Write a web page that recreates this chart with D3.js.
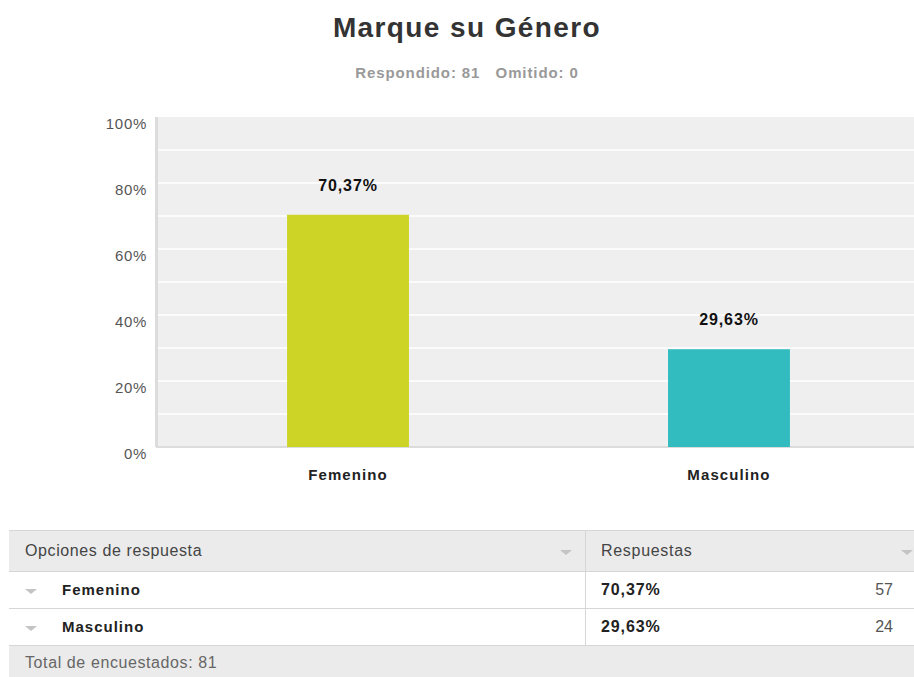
<!DOCTYPE html>
<html>
<head>
<meta charset="utf-8">
<script src="https://cdn.jsdelivr.net/npm/d3@7"></script>
<style>
  body { margin: 0; background: #fff; }
  svg text { font-family: "Liberation Sans", Arial, sans-serif; }
</style>
</head>
<body>
<svg width="914" height="677"></svg>
<script>
// chart values
var categories = ["Femenino", "Masculino"];
var percents = [70.37, 29.63];
var counts = [57, 24];
var barColors = ["#cdd426", "#33bcbf"];
var yTicks = [0, 20, 40, 60, 80, 100];
var title = "Marque su Género";
var answered = 81, skipped = 0;

var svg = d3.select("svg"),
    width = +svg.attr("width"),
    height = +svg.attr("height");

var fmt = function(v) { return v.toFixed(2).replace(".", ",") + "%"; };

// title + subtitle
svg.append("text")
    .attr("x", 467).attr("y", 37)
    .attr("text-anchor", "middle")
    .attr("font-size", 28).attr("font-weight", "bold")
    .attr("letter-spacing", 1.4)
    .attr("fill", "#333")
    .text(title);

svg.append("text")
    .attr("x", 467).attr("y", 78)
    .attr("text-anchor", "middle")
    .attr("font-size", 15).attr("font-weight", "bold")
    .attr("letter-spacing", 0.9)
    .attr("fill", "#999")
    .attr("xml:space", "preserve")
    .text("Respondido: " + answered + "   Omitido: " + skipped);

// plot area
var plot = { left: 156, right: 914, top: 117, bottom: 447 };

var x = d3.scaleBand()
    .domain(categories)
    .range([plot.left, 921])
    .paddingInner(0.68).paddingOuter(0.344);

var y = d3.scaleLinear()
    .domain([0, 100])
    .range([plot.bottom, plot.top]);

svg.append("rect")
    .attr("x", plot.left).attr("y", plot.top)
    .attr("width", plot.right - plot.left)
    .attr("height", plot.bottom - plot.top)
    .attr("fill", "#efefef");

// white gridlines every 10%
svg.append("g")
  .selectAll("line")
  .data(d3.range(10, 100, 10))
  .enter().append("line")
    .attr("x1", plot.left).attr("x2", plot.right)
    .attr("y1", function(d) { return y(d); })
    .attr("y2", function(d) { return y(d); })
    .attr("stroke", "#fff").attr("stroke-width", 1.5);

// left / bottom edges
svg.append("line")
    .attr("x1", plot.left + 0.5).attr("x2", plot.left + 0.5)
    .attr("y1", plot.top).attr("y2", plot.bottom)
    .attr("stroke", "#dcdcdc").attr("stroke-width", 3);
svg.append("line")
    .attr("x1", plot.left).attr("x2", plot.right)
    .attr("y1", plot.bottom).attr("y2", plot.bottom)
    .attr("stroke", "#dcdcdc").attr("stroke-width", 2);

// y axis labels
var yAxis = d3.axisLeft(y)
    .tickValues(yTicks)
    .tickFormat(function(d) { return d + "%"; })
    .tickSize(0).tickPadding(9);

svg.append("g")
    .attr("transform", "translate(" + plot.left + ",7)")
    .call(yAxis)
    .call(function(g) { g.select(".domain").remove(); })
    .selectAll("text")
      .attr("font-size", 15)
      .attr("letter-spacing", 0.7)
      .attr("fill", "#555")
      .style("font-family", "Liberation Sans, Arial, sans-serif");

// bars
svg.append("g")
  .selectAll("rect")
  .data(categories)
  .enter().append("rect")
    .attr("x", function(d) { return x(d); })
    .attr("width", x.bandwidth())
    .attr("y", function(d, i) { return y(percents[i]); })
    .attr("height", function(d, i) { return plot.bottom - y(percents[i]); })
    .attr("fill", function(d, i) { return barColors[i]; });

// value labels
svg.append("g")
  .selectAll("text")
  .data(categories)
  .enter().append("text")
    .attr("x", function(d) { return x(d) + x.bandwidth() / 2; })
    .attr("y", function(d, i) { return y(percents[i]) - 24; })
    .attr("text-anchor", "middle")
    .attr("font-size", 16).attr("font-weight", "bold")
    .attr("letter-spacing", 0.9)
    .attr("fill", "#111")
    .text(function(d, i) { return fmt(percents[i]); });

// category labels
var xAxis = d3.axisBottom(x).tickSize(0).tickPadding(22);
svg.append("g")
    .attr("transform", "translate(0," + plot.bottom + ")")
    .call(xAxis)
    .call(function(g) { g.select(".domain").remove(); })
    .selectAll("text")
      .attr("font-size", 15).attr("font-weight", "bold")
      .attr("letter-spacing", 1.1)
      .attr("fill", "#222")
      .style("font-family", "Liberation Sans, Arial, sans-serif");

// table below
var tbl = { left: 9, right: 914, split: 585, top: 530 };
var rowH = [41, 37, 37, 34];
var rowY = [tbl.top];
rowH.forEach(function(h, i) { rowY.push(rowY[i] + h); });

var table = svg.append("g");

// header and footer backgrounds
table.append("rect")
    .attr("x", tbl.left).attr("y", rowY[0])
    .attr("width", tbl.right - tbl.left).attr("height", rowH[0])
    .attr("fill", "#ebebeb");
table.append("rect")
    .attr("x", tbl.left).attr("y", rowY[3])
    .attr("width", tbl.right - tbl.left).attr("height", rowH[3])
    .attr("fill", "#ebebeb");

// horizontal borders
table.selectAll("line.h")
  .data([rowY[0], rowY[1], rowY[2], rowY[3]])
  .enter().append("line")
    .attr("class", "h")
    .attr("x1", tbl.left).attr("x2", tbl.right)
    .attr("y1", function(d) { return d + 0.5; })
    .attr("y2", function(d) { return d + 0.5; })
    .attr("stroke", "#d6d6d6");

// column split
table.append("line")
    .attr("x1", tbl.split + 0.5).attr("x2", tbl.split + 0.5)
    .attr("y1", rowY[0]).attr("y2", rowY[3])
    .attr("stroke", "#d6d6d6");

function caret(g, cx, cy) {
  g.append("path")
    .attr("d", "M" + (cx - 6) + "," + (cy - 2) + "L" + (cx + 6) + "," + (cy - 2) + "L" + cx + "," + (cy + 3) + "Z")
    .attr("fill", "#c4c4c4");
}

// header
table.append("text")
    .attr("x", 25).attr("y", rowY[0] + 26)
    .attr("font-size", 16).attr("letter-spacing", 0.6).attr("fill", "#444")
    .text("Opciones de respuesta");
table.append("text")
    .attr("x", 601).attr("y", rowY[0] + 26)
    .attr("font-size", 16).attr("letter-spacing", 0.7).attr("fill", "#444")
    .text("Respuestas");
caret(table, 566, rowY[0] + 22);
caret(table, 907, rowY[0] + 22);

// data rows
categories.forEach(function(c, i) {
  var ty = rowY[i + 1] + 24;
  caret(table, 31, ty - 4);
  table.append("text")
      .attr("x", 62).attr("y", ty)
      .attr("font-size", 15).attr("font-weight", "bold").attr("letter-spacing", 1)
      .attr("fill", "#222")
      .text(c);
  table.append("text")
      .attr("x", 601).attr("y", ty)
      .attr("font-size", 16).attr("font-weight", "bold").attr("letter-spacing", 0.9)
      .attr("fill", "#222")
      .text(fmt(percents[i]));
  table.append("text")
      .attr("x", 893).attr("y", ty)
      .attr("text-anchor", "end")
      .attr("font-size", 16).attr("fill", "#555")
      .text(counts[i]);
});

// footer
table.append("text")
    .attr("x", 25).attr("y", rowY[3] + 23)
    .attr("font-size", 16).attr("letter-spacing", 0.6).attr("fill", "#666")
    .text("Total de encuestados: " + answered);
</script>
</body>
</html>
